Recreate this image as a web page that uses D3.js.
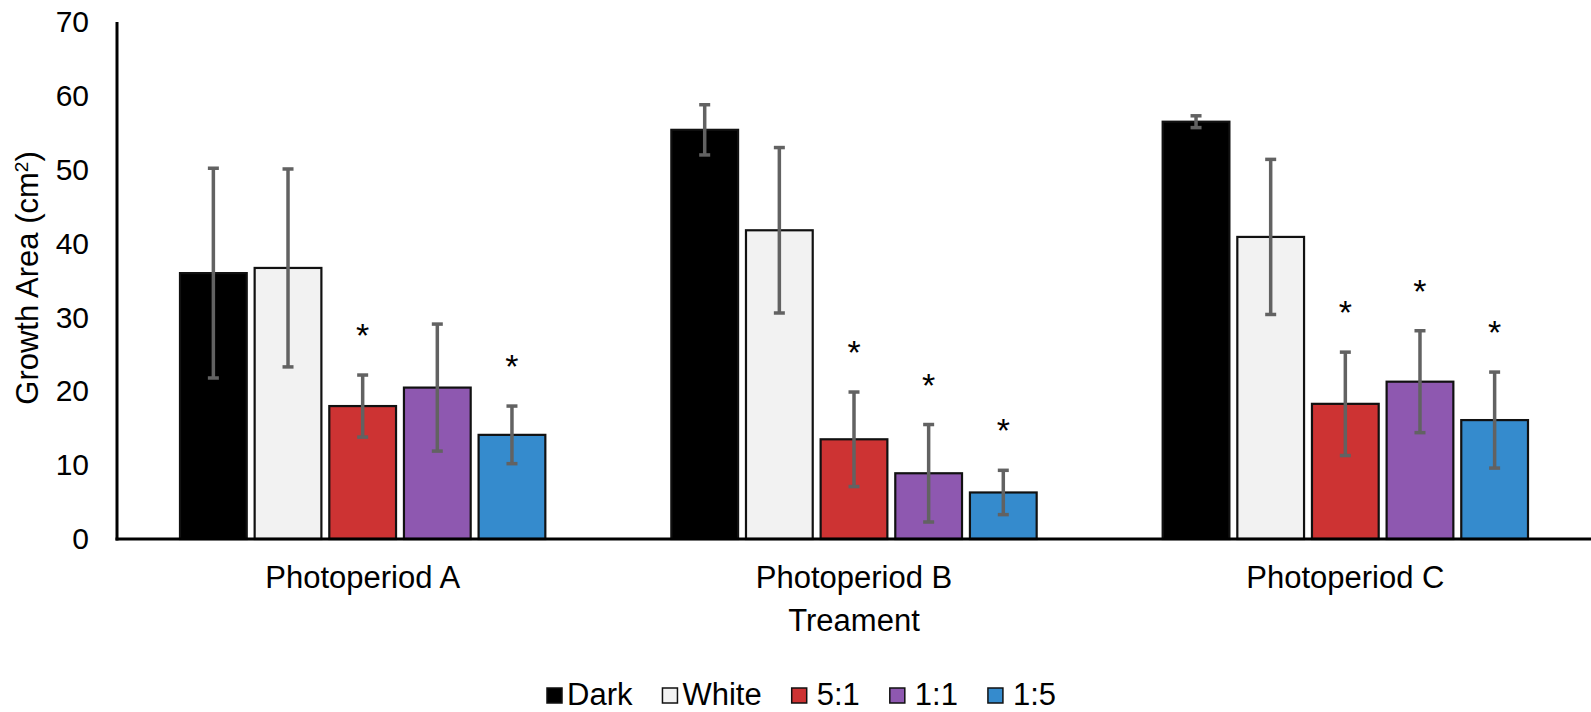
<!DOCTYPE html>
<html lang="en">
    <head>
        <meta charset="UTF-8">
        <title>Growth Area by Treament</title>
        <style>
            html, body {
                margin: 0;
                padding: 0;
                background: #ffffff;
            }
            svg {
                display: block;
            }
            text {
                font-family: "Liberation Sans", Arial, sans-serif;
                fill: #000000;
            }
        </style>
        <script src="https://cdn.jsdelivr.net/npm/d3@7"></script>
    </head>
    <body>
        <svg id="chart"></svg>
    <script>
        // data
        const groups = ["Photoperiod A", "Photoperiod B", "Photoperiod C"];
        const series = ["Dark", "White", "5:1", "1:1", "1:5"];
        const colors = ["#000000", "#f2f2f2", "#cd3333", "#8e58b0", "#358bcd"];

        const darkMean = [36.0, 55.4, 56.5];
        const whiteMean = [36.7, 41.8, 40.9];
        const ratio51Mean = [18.0, 13.5, 18.3];
        const ratio11Mean = [20.5, 8.9, 21.3];
        const ratio15Mean = [14.1, 6.3, 16.1];

        const darkErr = [14.2, 3.4, 0.8];
        const whiteErr = [13.4, 11.2, 10.5];
        const ratio51Err = [4.2, 6.4, 7.0];
        const ratio11Err = [8.6, 6.6, 6.9];
        const ratio15Err = [3.9, 3.0, 6.5];

        // "*" = significant
        const darkSig = [false, false, false];
        const whiteSig = [false, false, false];
        const ratio51Sig = [true, true, true];
        const ratio11Sig = [false, true, true];
        const ratio15Sig = [true, true, true];

        const yTicks = [0, 10, 20, 30, 40, 50, 60, 70];

        const means = [darkMean, whiteMean, ratio51Mean, ratio11Mean, ratio15Mean];
        const errs = [darkErr, whiteErr, ratio51Err, ratio11Err, ratio15Err];
        const sigs = [darkSig, whiteSig, ratio51Sig, ratio11Sig, ratio15Sig];

        const rows = [];
        groups.forEach((g, gi) => {
            series.forEach((s, si) => {
                rows.push({
                    group: g,
                    series: s,
                    color: colors[si],
                    value: means[si][gi],
                    err: errs[si][gi],
                    sig: sigs[si][gi]
                });
            });
        });

        const width = 1591;
        const height = 712;
        const plotLeft = 117;
        const plotRight = 1591;
        const plotTop = 22;
        const plotBottom = 539;

        const svg = d3.select("#chart")
            .attr("width", width)
            .attr("height", height);

        const x0 = d3.scaleBand()
            .domain(groups)
            .range([plotLeft, plotRight]);

        const x1 = d3.scaleBand()
            .domain(series)
            .range([63, x0.bandwidth() - 63])
            .paddingInner(0.106);

        const y = d3.scaleLinear()
            .domain([0, 70])
            .range([plotBottom, plotTop]);

        // y axis labels
        const yAxis = svg.append("g")
            .attr("transform", `translate(${plotLeft},0)`)
            .call(d3.axisLeft(y).tickValues(yTicks).tickSize(0).tickPadding(28));
        yAxis.select(".domain").remove();
        yAxis.selectAll("text")
            .attr("font-size", 30)
            .attr("font-family", "'Liberation Sans', Arial, sans-serif")
            .attr("fill", "#000");

        // x axis labels
        const xAxis = svg.append("g")
            .attr("transform", `translate(0,${plotBottom})`)
            .call(d3.axisBottom(x0).tickSize(0).tickPadding(27));
        xAxis.select(".domain").remove();
        xAxis.selectAll("text")
            .attr("font-size", 31)
            .attr("font-family", "'Liberation Sans', Arial, sans-serif")
            .attr("fill", "#000");

        // bars
        const groupG = svg.append("g")
            .selectAll("g")
            .data(groups)
            .join("g")
            .attr("transform", g => `translate(${x0(g)},0)`);

        const barG = groupG.selectAll("g")
            .data(g => rows.filter(r => r.group === g))
            .join("g");

        barG.append("rect")
            .attr("x", d => x1(d.series))
            .attr("y", d => y(d.value))
            .attr("width", x1.bandwidth())
            .attr("height", d => y(0) - y(d.value))
            .attr("fill", d => d.color)
            .attr("stroke", "#111111")
            .attr("stroke-width", 2.2);

        // error bars
        const cx = d => x1(d.series) + x1.bandwidth() / 2;
        const errColor = "#626262";
        barG.append("line")
            .attr("x1", cx)
            .attr("x2", cx)
            .attr("y1", d => y(d.value + d.err))
            .attr("y2", d => y(d.value - d.err))
            .attr("stroke", errColor)
            .attr("stroke-width", 3.5);
        barG.append("line")
            .attr("x1", d => cx(d) - 5.5)
            .attr("x2", d => cx(d) + 5.5)
            .attr("y1", d => y(d.value + d.err))
            .attr("y2", d => y(d.value + d.err))
            .attr("stroke", errColor)
            .attr("stroke-width", 3.5);
        barG.append("line")
            .attr("x1", d => cx(d) - 5.5)
            .attr("x2", d => cx(d) + 5.5)
            .attr("y1", d => y(d.value - d.err))
            .attr("y2", d => y(d.value - d.err))
            .attr("stroke", errColor)
            .attr("stroke-width", 3.5);

        // significance stars
        barG.filter(d => d.sig)
            .append("text")
            .attr("x", cx)
            .attr("y", d => y(d.value + d.err) - 28)
            .attr("text-anchor", "middle")
            .attr("font-size", 34)
            .text("*");

        // axis lines
        svg.append("line")
            .attr("x1", plotLeft).attr("x2", plotLeft)
            .attr("y1", plotTop).attr("y2", plotBottom + 1.5)
            .attr("stroke", "#000").attr("stroke-width", 3);
        svg.append("line")
            .attr("x1", plotLeft - 1.5).attr("x2", plotRight)
            .attr("y1", plotBottom).attr("y2", plotBottom)
            .attr("stroke", "#000").attr("stroke-width", 3);

        // axis titles
        svg.append("text")
            .attr("x", (plotLeft + plotRight) / 2)
            .attr("y", 631)
            .attr("text-anchor", "middle")
            .attr("font-size", 31)
            .text("Treament");

        const yTitle = svg.append("text")
            .attr("transform", "translate(38,278) rotate(-90)")
            .attr("text-anchor", "middle")
            .attr("font-size", 31);
        yTitle.append("tspan").text("Growth Area (cm");
        yTitle.append("tspan")
            .attr("baseline-shift", "super")
            .attr("font-size", 19)
            .text("2");
        yTitle.append("tspan").text(")");

        // legend
        const legend = svg.append("g")
            .attr("transform", "translate(547,0)");
        let lx = 0;
        series.forEach((s, i) => {
            const item = legend.append("g")
                .attr("transform", `translate(${lx},0)`);
            item.append("rect")
                .attr("x", 0)
                .attr("y", 688)
                .attr("width", 15)
                .attr("height", 15)
                .attr("fill", colors[i])
                .attr("stroke", "#111")
                .attr("stroke-width", 1.5);
            const gap = i < 2 ? 20 : 25;
            const t = item.append("text")
                .attr("x", gap)
                .attr("y", 705)
                .attr("font-size", 31)
                .text(s);
            lx += gap + t.node().getComputedTextLength() + 30;
        });
    </script>
    </body>
</html>
